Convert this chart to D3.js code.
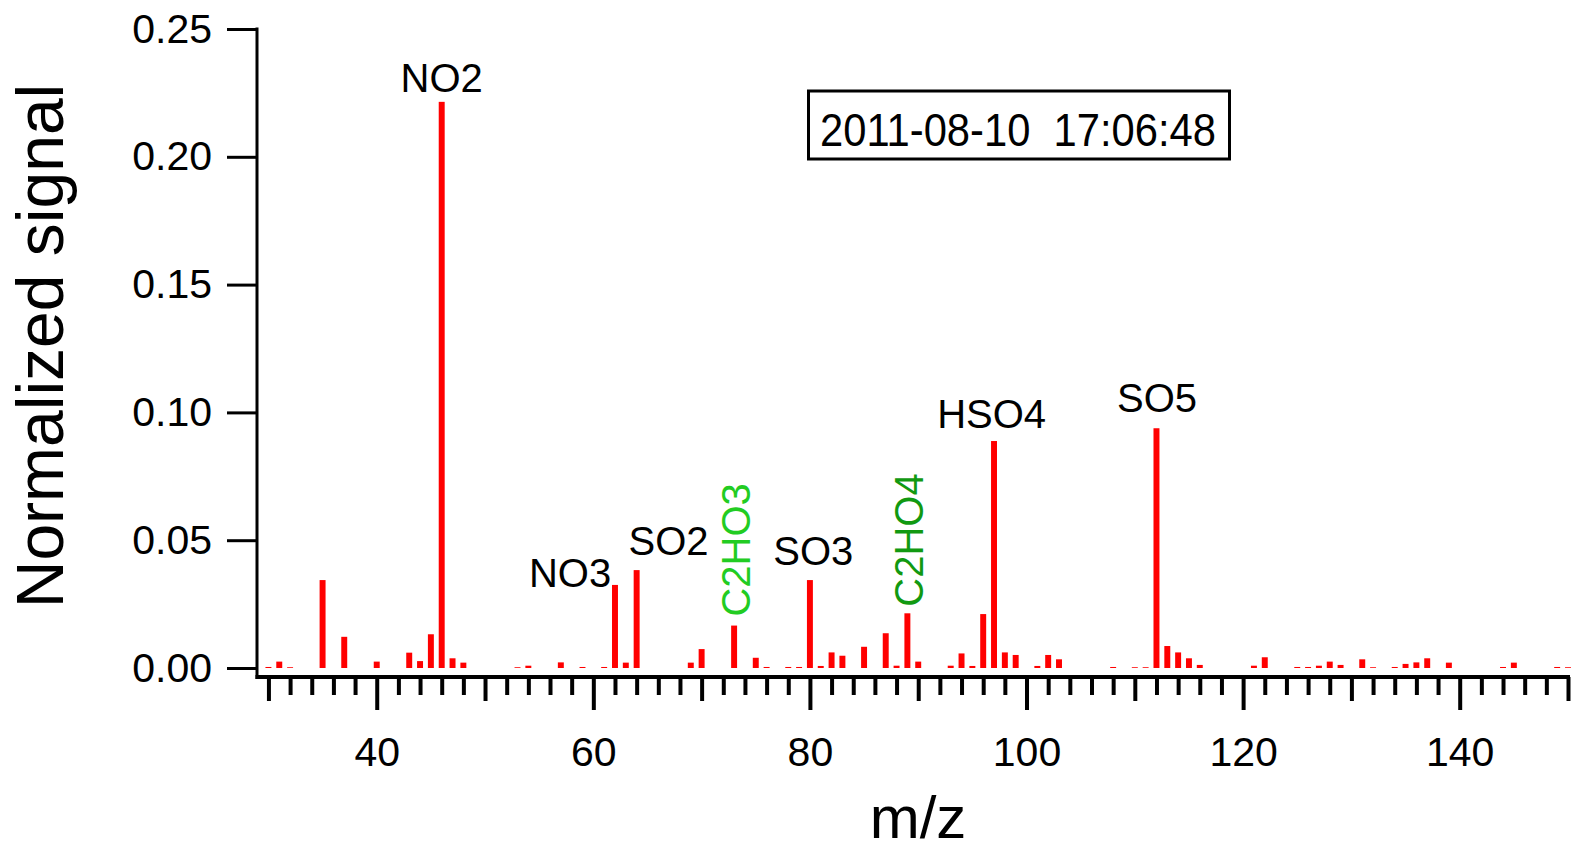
<!DOCTYPE html>
<html>
<head>
<meta charset="utf-8">
<script src="https://cdn.jsdelivr.net/npm/d3@7"></script>
<style>
  body { margin: 0; background: #fff; }
  svg { display: block; font-family: "Liberation Sans", Arial, sans-serif; }
</style>
</head>
<body>
<svg id="chart" width="1576" height="855"></svg>
<script>
// m/z of each peak and its normalized signal
var mzValues = [30, 31, 32, 35, 37, 40, 43, 44, 45, 46, 47, 48, 53, 54, 57, 59, 61, 62, 63, 64,
	69, 70, 73, 75, 76, 78, 79, 80, 81, 82, 83, 85, 87, 88, 89, 90, 93, 94, 95, 96,
	97, 98, 99, 101, 102, 103, 108, 110, 111, 112, 113, 114, 115, 116, 121, 122, 125, 126, 127, 128,
	129, 131, 132, 134, 135, 136, 137, 139, 144, 145, 149, 150];
var signalValues = [0.0004, 0.0025, 0.0003, 0.0344, 0.0122, 0.0025, 0.0060, 0.0027, 0.0132, 0.2215, 0.0038, 0.0021, 0.0003, 0.0009, 0.0022, 0.0004, 0.0004, 0.0325, 0.0021, 0.0383,
	0.0021, 0.0074, 0.0166, 0.0040, 0.0004, 0.0004, 0.0004, 0.0344, 0.0008, 0.0061, 0.0048, 0.0083, 0.0136, 0.0009, 0.0214, 0.0025, 0.0009, 0.0057, 0.0008, 0.0211,
	0.0888, 0.0061, 0.0051, 0.0008, 0.0051, 0.0034, 0.0004, 0.0003, 0.0003, 0.0938, 0.0086, 0.0061, 0.0038, 0.0012, 0.0009, 0.0042, 0.0004, 0.0004, 0.0009, 0.0025,
	0.0012, 0.0034, 0.0003, 0.0004, 0.0016, 0.0022, 0.0038, 0.0021, 0.0004, 0.0021, 0.0004, 0.0003];

// peak annotations: text, m/z position, signal level of the baseline
var labelNames = ['NO2', 'NO3', 'SO2', 'C2HO3', 'SO3', 'C2HO4', 'HSO4', 'SO5'];
var labelMz = [46, 57.85, 66.94, 73.17, 80.31, 89.08, 96.78, 112.05];
var labelSignal = [0.2255, 0.0318, 0.0442, 0.0201, 0.0403, 0.0240, 0.0938, 0.1000];
var labelKind = ['ion', 'ion', 'ion', 'organic', 'ion', 'organic2', 'ion', 'ion'];

var yTicks = [0, 0.05, 0.10, 0.15, 0.20, 0.25];
var xMajorTicks = [40, 60, 80, 100, 120, 140];
var stampText = '2011-08-10\u00a0\u00a017:06:48';

var svg = d3.select('#chart');

var x = d3.scaleLinear().domain([29, 150]).range([257.6, 1568]);
var y = d3.scaleLinear().domain([0, 0.25]).range([668, 29]);

var axisY = 677;
var barWidth = (x(1) - x(0)) * 0.55;
var labelColors = { ion: '#000', organic: '#22cc22', organic2: '#119911' };

// bars
var bars = mzValues.map(function(m, i) {
	return { mz: m, v: signalValues[i] };
});
svg.append('g').selectAll('rect').data(bars).enter().append('rect')
		.attr('x', function(d) { return x(d.mz) - barWidth / 2; })
		.attr('y', function(d) { return y(d.v); })
		.attr('width', barWidth)
		.attr('height', function(d) { return y(0) - y(d.v); })
		.attr('fill', '#ff0000');

// y axis
var gy = svg.append('g').attr('transform', 'translate(257,0)')
		.call(d3.axisLeft(y).tickValues(yTicks).tickFormat(d3.format('.2f'))
				.tickSize(30).tickPadding(15).tickSizeOuter(0));
gy.select('.domain').remove();
gy.selectAll('.tick line').attr('stroke', '#000').attr('stroke-width', 3);
gy.selectAll('.tick text').attr('font-size', 41).attr('fill', '#000')
		.attr('font-family', '"Liberation Sans", Arial, sans-serif');
svg.append('line').attr('x1', 257).attr('x2', 257).attr('y1', y(0.25) - 1.5).attr('y2', axisY + 2)
		.attr('stroke', '#000').attr('stroke-width', 3);

// x axis: minor every 2, medium every 10, major every 20 with labels
var minorTicks = d3.range(30, 151, 2).filter(function(m) { return m % 10 !== 0; });
var mediumTicks = d3.range(30, 151, 10).filter(function(m) { return m % 20 !== 0; });

function tickLayer(values, size, labels) {
	var axis = d3.axisBottom(x).tickValues(values).tickSize(size).tickSizeOuter(0);
	if (!labels) axis.tickFormat('');
	else axis.tickPadding(27).tickFormat(d3.format('d'));
	var g = svg.append('g').attr('transform', 'translate(0,' + axisY + ')').call(axis);
	g.select('.domain').remove();
	g.selectAll('.tick line').attr('stroke', '#000').attr('stroke-width', 4);
	g.selectAll('.tick text').attr('font-size', 41).attr('fill', '#000')
			.attr('font-family', '"Liberation Sans", Arial, sans-serif');
	return g;
}
tickLayer(minorTicks, 18, false);
tickLayer(mediumTicks, 24, false);
tickLayer(xMajorTicks, 33, true);
svg.append('line').attr('x1', 255.5).attr('x2', 1570).attr('y1', axisY).attr('y2', axisY)
		.attr('stroke', '#000').attr('stroke-width', 4);

// peak labels
labelNames.forEach(function(name, i) {
	var kind = labelKind[i];
	var t = svg.append('text').text(name)
			.attr('font-size', 40)
			.attr('fill', labelColors[kind]);
	if (kind === 'ion') {
		t.attr('x', x(labelMz[i])).attr('y', y(labelSignal[i])).attr('text-anchor', 'middle');
	} else {
		t.attr('transform', 'translate(' + x(labelMz[i]) + ',' + y(labelSignal[i]) + ') rotate(-90)')
				.attr('dy', '0.36em');
	}
});

// time stamp box
svg.append('rect').attr('x', 808.5).attr('y', 91).attr('width', 421).attr('height', 68)
		.attr('fill', '#fff').attr('stroke', '#000').attr('stroke-width', 3);
svg.append('text').text(stampText)
		.attr('x', 820).attr('y', 146).attr('font-size', 47)
		.attr('textLength', 396).attr('lengthAdjust', 'spacingAndGlyphs')
		.attr('fill', '#000');

// axis titles
svg.append('text').text('Normalized signal')
		.attr('transform', 'translate(63,346) rotate(-90)')
		.attr('text-anchor', 'middle').attr('font-size', 66).attr('fill', '#000');
svg.append('text').text('m/z')
		.attr('x', 918).attr('y', 838)
		.attr('text-anchor', 'middle').attr('font-size', 60).attr('fill', '#000');
</script>
</body>
</html>
